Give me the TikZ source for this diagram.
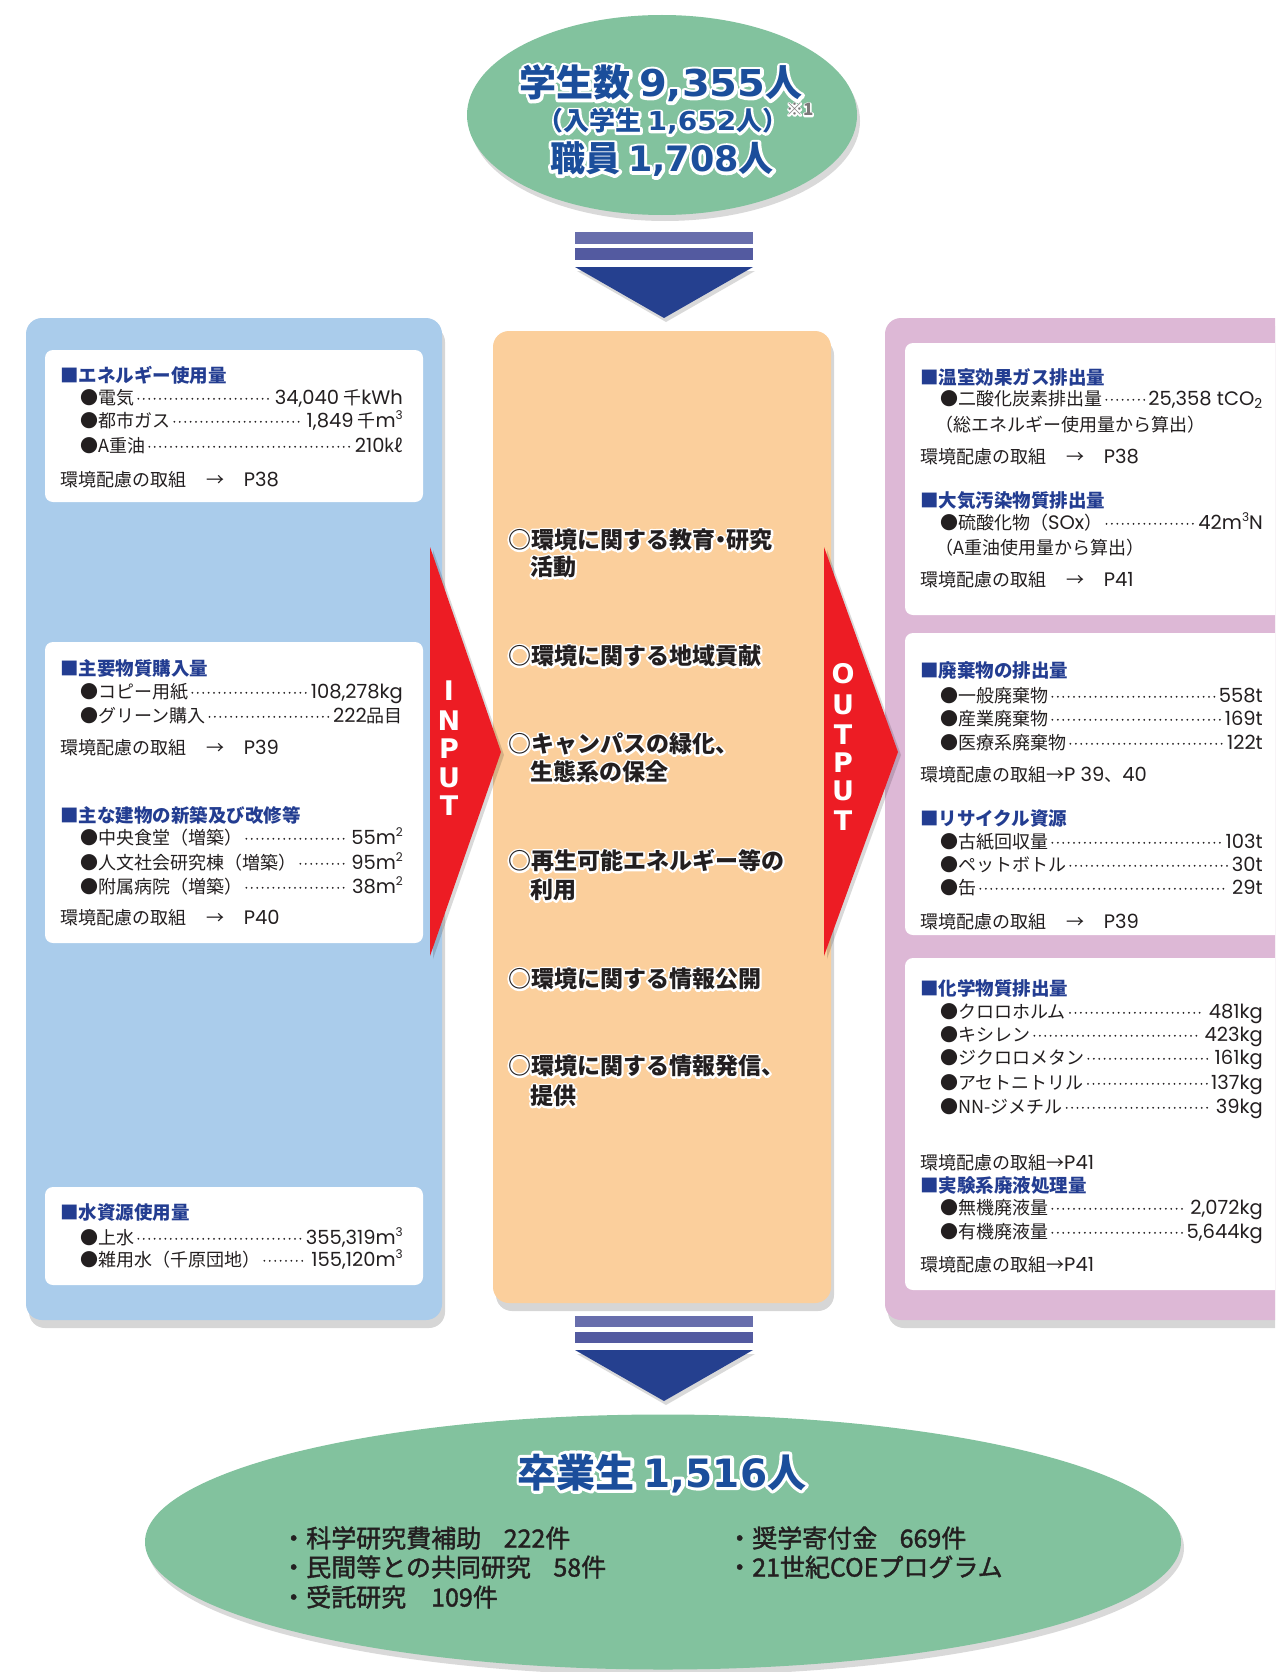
\documentclass[tikz,border=0pt]{standalone}
\usepackage{fontspec}
\usepackage{graphicx}
\usetikzlibrary{shadows,shapes.geometric}
\setmainfont{Noto Sans CJK JP}
\newfontfamily\latb{DejaVu Sans}
\newfontfamily\latv{Poppins}
\newfontfamily\medcjk{Noto Sans CJK JP}[FakeBold=1.5]
\definecolor{panelblue}{RGB}{170,204,235}
\definecolor{panelorange}{RGB}{251,207,156}
\definecolor{panelpink}{RGB}{221,184,214}
\definecolor{ellgreen}{RGB}{130,194,158}
\definecolor{arrowblue}{RGB}{37,64,143}
\definecolor{barone}{RGB}{104,110,172}
\definecolor{bartwo}{RGB}{83,90,160}
\definecolor{redarrow}{RGB}{237,28,36}
\definecolor{headblue}{RGB}{35,61,145}
\definecolor{titleblue}{RGB}{27,78,155}
\definecolor{ink}{RGB}{35,31,32}
\newcommand\lat[1]{{\latv\fontsize{19.5}{19.5}\selectfont #1}}
\newcommand\spr[1]{\raisebox{0.45em}{\fontsize{12}{12}\selectfont #1}}
\newcommand\dig[1]{{\latb\bfseries #1}}
\newcommand\halotext[2]{\leavevmode\special{pdf:literal direct 1 j}%
 \rlap{\def\dig##1{{\latb\bfseries\addfontfeatures{FakeBold=#1}##1}}\addfontfeatures{FakeBold=#1}\textcolor{white}{#2}}#2}
\newcommand\halfdot{\makebox[0.5em][c]{・}}
\tikzset{
  itm/.style={font=\fontsize{18}{18}\selectfont, text=ink, inner sep=0pt, anchor=base west, yshift=-6.8pt},
  hd/.style={font=\fontsize{18.5}{18.5}\selectfont\bfseries, text=headblue, inner sep=0pt, anchor=base west, yshift=-7pt},
  ctr/.style={font=\fontsize{23}{23}\selectfont\bfseries, text=ink, inner sep=0pt, anchor=base west, yshift=-8.7pt},
  btm/.style={font=\fontsize{25}{25}\selectfont\medcjk, text=ink, inner sep=0pt, anchor=base west, yshift=-9.5pt},
  leader/.style={line width=2pt, line cap=round, dash pattern=on 0pt off 5.4pt, draw=ink},
  letter/.style={font=\fontsize{27}{27}\selectfont\latb\bfseries, text=white, inner sep=0pt},
  panelshadow/.style={drop shadow={shadow xshift=3pt, shadow yshift=-8pt, opacity=0.16, fill=black}},
  wbox/.style={fill=white, rounded corners=8pt},
}
\newcommand\ditem[6]{%
  \node[itm] (#1-l) at (#2,#4) {●#5};
  \node[itm, anchor=base east] (#1-v) at (#3,#4) {#6};
  \draw[leader] ([xshift=4pt,yshift=6pt]#1-l.base east) -- ([xshift=-4pt,yshift=6pt]#1-v.base west);
}
\begin{document}
\begin{tikzpicture}[x=1pt,y=-1pt]
\useasboundingbox (0,0) rectangle (1275,1672);
\fill[white] (0,0) rectangle (1275,1672);
\begin{scope}
\clip (0,0) rectangle (1275,1672);
% ellipses
\node[ellipse, fill=ellgreen, minimum width=390pt, minimum height=200pt, inner sep=0pt, drop shadow={shadow xshift=3pt, shadow yshift=-6pt, opacity=0.15, fill=black}] (topell) at (662,115) {};
\node[ellipse, fill=ellgreen, minimum width=1036pt, minimum height=255pt, inner sep=0pt, drop shadow={shadow xshift=3pt, shadow yshift=-6pt, opacity=0.15, fill=black}] (botell) at (663,1542) {};
% top arrow
\fill[barone] (575,232) rectangle (753,244);
\fill[bartwo] (575,248) rectangle (753,260);
\fill[arrowblue, drop shadow={shadow xshift=2pt, shadow yshift=-4pt, opacity=0.15, fill=black}] (575,267) -- (753,267) -- (664,318) -- cycle;
% bottom arrow
\fill[barone] (575,1316) rectangle (753,1327);
\fill[bartwo] (575,1332) rectangle (753,1343);
\fill[arrowblue, drop shadow={shadow xshift=2pt, shadow yshift=-4pt, opacity=0.15, fill=black}] (575,1350) -- (753,1350) -- (664,1401) -- cycle;
% panels
\fill[panelblue, rounded corners=16pt, panelshadow] (26,318) rectangle (442,1320);
\fill[panelorange, rounded corners=16pt, panelshadow] (493,331) rectangle (831,1303);
\fill[panelpink, rounded corners=16pt, panelshadow] (885,318) rectangle (1320,1320);
% white boxes
\fill[wbox] (45,350) rectangle (423,502);
\fill[wbox] (45,642) rectangle (423,943);
\fill[wbox] (45,1187) rectangle (423,1285);
\fill[wbox] (905,343) rectangle (1320,615);
\fill[wbox] (905,633) rectangle (1320,935);
\fill[wbox] (905,958) rectangle (1320,1290);
% red arrows
\fill[redarrow, drop shadow={shadow xshift=3pt, shadow yshift=-3pt, opacity=0.15, fill=black}] (430,547) -- (501,752) -- (430,956) -- cycle;
\fill[redarrow, drop shadow={shadow xshift=3pt, shadow yshift=-3pt, opacity=0.15, fill=black}] (824,547) -- (898,752) -- (824,956) -- cycle;
\end{scope}
% INPUT / OUTPUT letters
\node[letter] (in1) at (449,691) {I};
\node[letter] (in2) at (449,721) {N};
\node[letter] (in3) at (449,749) {P};
\node[letter] (in4) at (449,778) {U};
\node[letter] (in5) at (449,806) {T};
\node[letter] (out1) at (843,674) {O};
\node[letter] (out2) at (843,705) {U};
\node[letter] (out3) at (843,735) {T};
\node[letter] (out4) at (843,763) {P};
\node[letter] (out5) at (843,791) {U};
\node[letter] (out6) at (843,821) {T};
% top ellipse text
\node[font=\fontsize{37}{37}\selectfont\bfseries, text=titleblue, inner sep=0pt, anchor=base] (t1) at (661,97) {\halotext{16}{学生数 \scalebox{1.08}[1]{\dig{9,355}}人}};
\node[font=\fontsize{26}{26}\selectfont\bfseries, text=titleblue, inner sep=0pt, anchor=base] (t2) at (663,131) {\halotext{18}{（入学生 \scalebox{1.08}[1]{\dig{1,652}}人）}};
\node[font=\fontsize{17}{17}\selectfont\bfseries, text=ink!60, inner sep=0pt, anchor=base west] (t2n) at (786,116) {\halotext{16}{※1}};
\node[font=\fontsize{35}{35}\selectfont\bfseries, text=titleblue, inner sep=0pt, anchor=base] (t3) at (662,172) {\halotext{16}{職員 \dig{1,708}人}};
% left box 1
\node[hd] (L1h) at (60,375) {■エネルギー使用量};
\ditem{L1a}{80}{403}{398}{電気}{\lat{34,040} 千\lat{kWh}}
\ditem{L1b}{80}{403}{421}{都市ガス}{\lat{1,849} 千\lat{m\spr{3}}}
\ditem{L1c}{80}{403}{446}{A重油}{\lat{210}\textit{kℓ}}
\node[itm] (L1r) at (60,480) {環境配慮の取組\hspace{1.1em}→\hspace{1.1em}\lat{P38}};
% left box 2
\node[hd] (L2h) at (60,668) {■主要物質購入量};
\ditem{L2a}{80}{403}{692}{コピー用紙}{\lat{108,278kg}}
\ditem{L2b}{80}{403}{716}{グリーン購入}{\lat{222}品目}
\node[itm] (L2r) at (60,748) {環境配慮の取組\hspace{1.1em}→\hspace{1.1em}\lat{P39}};
\node[hd] (L3h) at (60,815) {■主な建物の新築及び改修等};
\ditem{L3a}{80}{403}{838}{中央食堂（増築）}{\lat{55m\spr{2}}}
\ditem{L3b}{80}{403}{863}{人文社会研究棟（増築）}{\lat{95m\spr{2}}}
\ditem{L3c}{80}{403}{887}{附属病院（増築）}{\lat{38m\spr{2}}}
\node[itm] (L3r) at (60,918) {環境配慮の取組\hspace{1.1em}→\hspace{1.1em}\lat{P40}};
% left box 3
\node[hd] (L4h) at (60,1212) {■水資源使用量};
\ditem{L4a}{80}{403}{1238}{上水}{\lat{355,319m\spr{3}}}
\ditem{L4b}{80}{403}{1260}{雑用水（千原団地）}{\lat{155,120m\spr{3}}}
% right box 1
\node[hd] (R1h) at (920,377) {■温室効果ガス排出量};
\ditem{R1a}{940}{1263}{399}{二酸化炭素排出量}{\lat{25,358 tCO\textsubscript{2}}}
\node[itm] (R1n) at (935,425) {（総エネルギー使用量から算出）};
\node[itm] (R1r) at (920,457) {環境配慮の取組\hspace{1.1em}→\hspace{1.1em}\lat{P38}};
\node[hd] (R2h) at (920,500) {■大気汚染物質排出量};
\ditem{R2a}{940}{1263}{523}{硫酸化物（\lat{SOx}）}{\lat{42m\spr{3}N}}
\node[itm] (R2n) at (935,548) {（A重油使用量から算出）};
\node[itm] (R2r) at (920,580) {環境配慮の取組\hspace{1.1em}→\hspace{1.1em}\lat{P41}};
% right box 2
\node[hd] (R3h) at (920,670) {■廃棄物の排出量};
\ditem{R3a}{940}{1263}{696}{一般廃棄物}{\lat{558t}}
\ditem{R3b}{940}{1263}{719}{産業廃棄物}{\lat{169t}}
\ditem{R3c}{940}{1263}{743}{医療系廃棄物}{\lat{122t}}
\node[itm] (R3r) at (920,775) {環境配慮の取組→\lat{P 39}、\lat{40}};
\node[hd] (R4h) at (920,818) {■リサイクル資源};
\ditem{R4a}{940}{1263}{842}{古紙回収量}{\lat{103t}}
\ditem{R4b}{940}{1263}{865}{ペットボトル}{\lat{30t}}
\ditem{R4c}{940}{1263}{888}{缶}{\lat{29t}}
\node[itm] (R4r) at (920,922) {環境配慮の取組\hspace{1.1em}→\hspace{1.1em}\lat{P39}};
% right box 3
\node[hd] (R5h) at (920,988) {■化学物質排出量};
\ditem{R5a}{940}{1263}{1012}{クロロホルム}{\lat{481kg}}
\ditem{R5b}{940}{1263}{1035}{キシレン}{\lat{423kg}}
\ditem{R5c}{940}{1263}{1058}{ジクロロメタン}{\lat{161kg}}
\ditem{R5d}{940}{1263}{1083}{アセトニトリル}{\lat{137kg}}
\ditem{R5e}{940}{1263}{1107}{NN-ジメチル}{\lat{39kg}}
\node[itm] (R5r) at (920,1163) {環境配慮の取組→\lat{P41}};
\node[hd] (R6h) at (920,1185) {■実験系廃液処理量};
\ditem{R6a}{940}{1263}{1208}{無機廃液量}{\lat{2,072kg}}
\ditem{R6b}{940}{1263}{1232}{有機廃液量}{\lat{5,644kg}}
\node[itm] (R6r) at (920,1265) {環境配慮の取組→\lat{P41}};
% center items
\node[ctr] (C1a) at (508,540) {\halotext{17}{○環境に関する教育\halfdot 研究}};
\node[ctr] (C1b) at (530,567) {\halotext{17}{活動}};
\node[ctr] (C2) at (508,656) {\halotext{17}{○環境に関する地域貢献}};
\node[ctr] (C3a) at (508,744) {\halotext{17}{○キャンパスの緑化、}};
\node[ctr] (C3b) at (530,772) {\halotext{17}{生態系の保全}};
\node[ctr] (C4a) at (508,861) {\halotext{17}{○再生可能エネルギー等の}};
\node[ctr] (C4b) at (530,890) {\halotext{17}{利用}};
\node[ctr] (C5) at (508,979) {\halotext{17}{○環境に関する情報公開}};
\node[ctr] (C6a) at (508,1066) {\halotext{17}{○環境に関する情報発信、}};
\node[ctr] (C6b) at (530,1096) {\halotext{17}{提供}};
% bottom ellipse text
\node[font=\fontsize{39}{39}\selectfont\bfseries, text=titleblue, inner sep=0pt, anchor=base] (b0) at (662,1487) {\halotext{16}{卒業生 \dig{1,516}人}};
\node[btm] (B1) at (281,1538) {・科学研究費補助\hspace{0.9em}222件};
\node[btm] (B2) at (281,1567) {・民間等との共同研究\hspace{0.9em}58件};
\node[btm] (B3) at (281,1597) {・受託研究\hspace{1em}109件};
\node[btm] (B4) at (727,1538) {・奨学寄付金\hspace{0.9em}669件};
\node[btm] (B5) at (727,1567) {・21世紀COEプログラム};
\end{tikzpicture}
\end{document}
